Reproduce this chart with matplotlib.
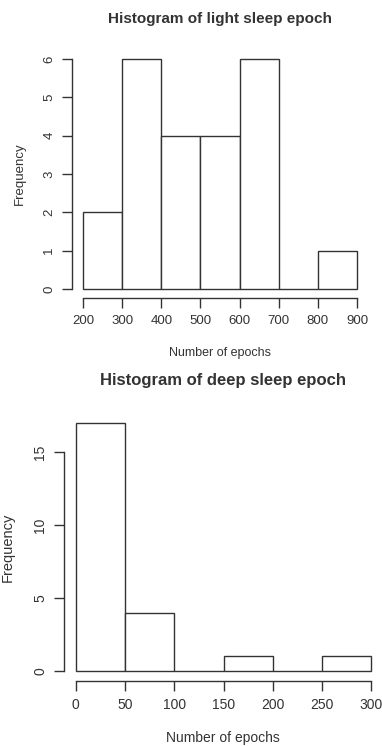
import numpy as np
import matplotlib.pyplot as plt

plt.rcParams['font.family'] = ['Liberation Sans', 'DejaVu Sans']

# light sleep histogram
light_edges = [200, 300, 400, 500, 600, 700, 800, 900]
light_counts = [2, 6, 4, 4, 6, 0, 1]
light_yticks = [0, 1, 2, 3, 4, 5, 6]

# deep sleep histogram
deep_edges = [0, 50, 100, 150, 200, 250, 300]
deep_counts = [17, 4, 0, 1, 0, 1]
deep_yticks = [0, 5, 10, 15]

W, H = 382, 746
ink = '#333333'
fig = plt.figure(figsize=(W / 100, H / 100), dpi=100)


def px_axes(left, top, right, bottom):
    return fig.add_axes([left / W, 1 - bottom / H, (right - left) / W, (bottom - top) / H])


def ftext(x, y, s, **kw):
    fig.text(x / W, 1 - y / H, s, color=ink, ha='center', va='center', **kw)


def r_hist(ax, edges, counts, yticks, fs):
    edges = np.array(edges)
    widths = np.diff(edges)
    ax.bar(edges[:-1], counts, width=widths, align='edge', color='white',
           edgecolor=ink, linewidth=1.0)
    rng = edges[-1] - edges[0]
    ax.set_xlim(edges[0] - 0.04 * rng, edges[-1] + 0.04 * rng)
    top = max(counts)
    ax.set_ylim(-0.04 * top, top * 1.04)
    ax.set_xticks(edges)
    ax.set_yticks(yticks)
    ax.set_yticklabels([str(t) for t in yticks], rotation=90, va='center')
    for s in ['top', 'right']:
        ax.spines[s].set_visible(False)
    ax.spines['left'].set_bounds(yticks[0], yticks[-1])
    ax.spines['bottom'].set_bounds(edges[0], edges[-1])
    for s in ['left', 'bottom']:
        ax.spines[s].set_color(ink)
        ax.spines[s].set_linewidth(1.0)
    ax.tick_params(colors=ink, labelsize=fs, length=7, width=1.0, pad=5)


ax1 = px_axes(72, 50, 368, 298)
r_hist(ax1, light_edges, light_counts, light_yticks, 9.5)
ftext(220, 19, 'Histogram of light sleep epoch', fontsize=11, fontweight='bold')
ftext(220, 353, 'Number of epochs', fontsize=9, )
ftext(20, 174, 'Frequency', fontsize=9.5, rotation=90)

ax2 = px_axes(64, 413, 383, 681)
r_hist(ax2, deep_edges, deep_counts, deep_yticks, 10)
ftext(223, 380, 'Histogram of deep sleep epoch', fontsize=12, fontweight='bold')
ftext(223, 738, 'Number of epochs', fontsize=10)
ftext(8, 547, 'Frequency', fontsize=10.5, rotation=90)

fig.savefig('out.png', dpi=100)
